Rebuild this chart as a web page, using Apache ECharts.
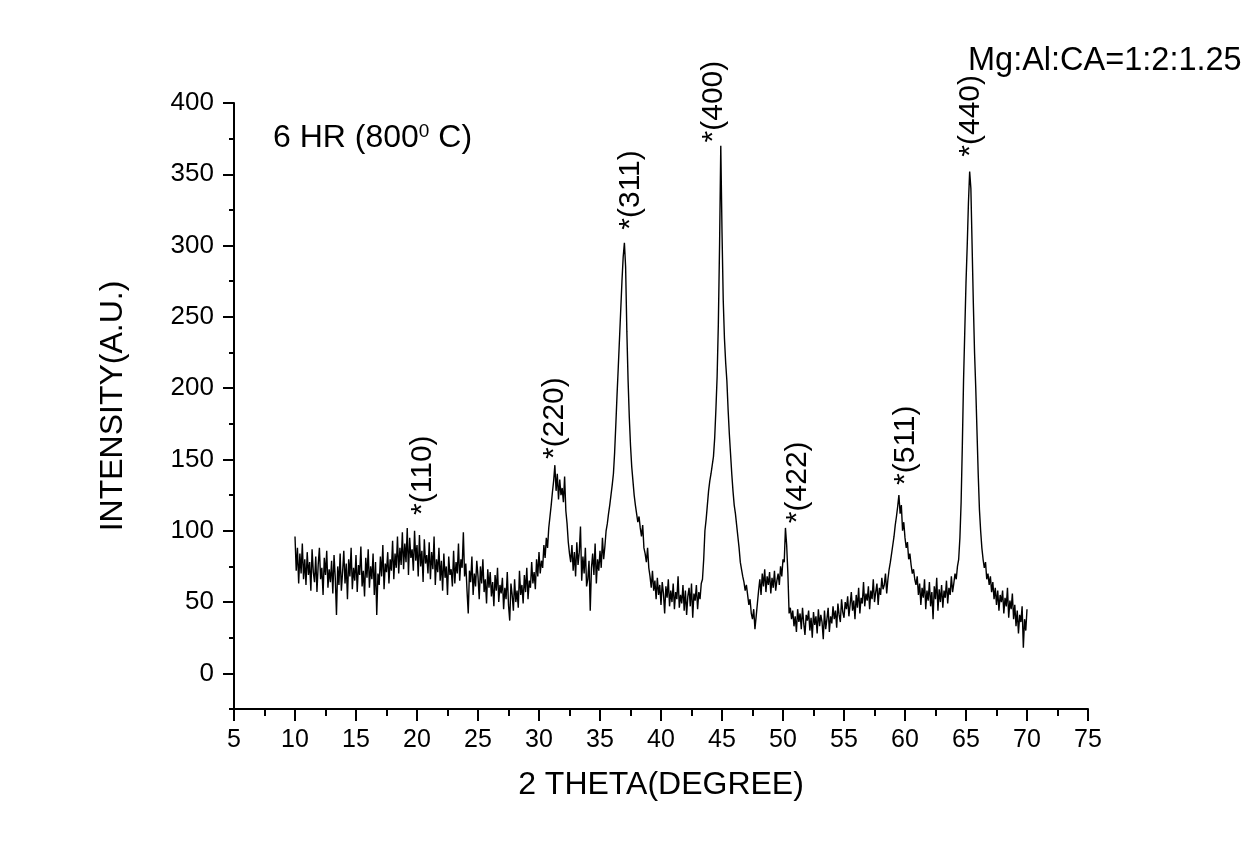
<!DOCTYPE html>
<html>
<head>
<meta charset="utf-8">
<script src="https://cdn.jsdelivr.net/npm/echarts@6/dist/echarts.min.js"></script>
<style>
  html, body { margin: 0; padding: 0; background: #ffffff; }
  #chart { width: 1247px; height: 847px; }
</style>
</head>
<body>
<div id="chart"></div>
<script>
// ---- Data ----
const thetaStart = 10;     // 2θ of first sample (degrees)
const thetaStep = 0.1;     // sampling step (degrees)
const intensity = [
  96, 72, 88, 63, 84, 70, 91, 66, 80, 62,
  85, 69, 78, 58, 87, 71, 64, 82, 57, 76,
  88, 66, 74, 55, 81, 69, 86, 60, 73, 64,
  79, 56, 83, 67, 41, 75, 62, 84, 58, 71,
  86, 63, 77, 52, 80, 68, 88, 59, 74, 65,
  83, 57, 76, 69, 89, 61, 72, 54, 81, 67,
  87, 60, 75, 66, 84, 55, 78, 41, 70, 62,
  82, 68, 90, 59, 77, 71, 85, 63, 80, 72,
  93, 66, 84, 74, 96, 70, 88, 76, 99, 73,
  91, 78, 102, 69, 95, 81, 87, 72, 100, 79,
  90, 68, 97, 75, 86, 64, 94, 77, 83, 70,
  92, 66, 85, 73, 96, 62, 80, 71, 88, 65,
  79, 58, 84, 67, 75, 55, 82, 69, 73, 61,
  86, 63, 78, 70, 91, 65, 80, 74, 99, 68,
  77, 58, 42, 72, 64, 82, 55, 70, 61, 79,
  68, 52, 75, 63, 80, 57, 66, 49, 73, 60,
  71, 54, 64, 47, 69, 58, 74, 50, 62, 56,
  67, 45, 60, 52, 71, 48, 37, 63, 55, 44,
  66, 50, 58, 46, 72, 55, 62, 49, 69, 57,
  74, 52, 65, 60, 78, 63, 71, 59, 80, 68,
  85, 70, 79, 74, 90, 81, 95, 88, 102, 110,
  118, 127, 135, 146, 128, 140, 122, 136, 125, 130,
  120, 138, 114, 105, 92, 84, 78, 90, 72, 85,
  68, 92, 76, 85, 103, 65, 82, 70, 88, 61,
  66, 79, 44, 74, 84, 69, 91, 63, 80, 72,
  86, 74, 95, 80, 89, 100, 105, 112, 118, 125,
  132, 140, 155, 175, 196, 215, 235, 255, 275, 292,
  302, 285, 240, 206, 180, 160, 145, 135, 125, 118,
  112, 106, 110, 102, 96, 104, 88, 84, 78, 88,
  74, 68, 60, 72, 58, 65, 52, 67, 55, 62,
  48, 64, 56, 42, 61, 53, 66, 47, 58, 50,
  63, 45, 57, 52, 68, 46, 55, 49, 62, 44,
  58, 41, 54, 60, 47, 63, 39, 56, 51, 62,
  45, 57, 52, 63, 66, 80, 100, 108, 118, 128,
  135, 140, 146, 152, 165, 185, 208, 245, 300, 370,
  310, 262, 235, 218, 205, 185, 168, 154, 140, 128,
  118, 112, 104, 96, 88, 78, 73, 68, 64, 58,
  62, 55, 48, 52, 42, 38, 45, 31, 40, 49,
  58, 66, 55, 70, 61, 73, 57, 68, 62, 71,
  56, 67, 60, 72, 58, 65, 70, 62, 75, 68,
  80, 78, 102, 90, 70, 42, 46, 38, 44, 33,
  40, 29, 45, 36, 42, 31, 46, 35, 27, 41,
  37, 44, 30, 39, 25, 43, 34, 40, 28, 45,
  33, 41, 36, 24, 44, 31, 38, 46, 29, 40,
  35, 47, 38, 44, 32, 49, 41, 36, 52, 43,
  39, 50, 45, 54, 40, 48, 57, 44, 51, 38,
  55, 46, 60, 42, 53, 49, 64, 47, 56, 51,
  61, 45, 58, 52, 66, 50, 57, 63, 48, 60,
  55, 67, 59, 62, 70, 56, 66, 73, 78, 84,
  90, 96, 104, 110, 117, 125, 112, 118, 100, 106,
  95, 88, 92, 80, 84, 76, 70, 73, 66, 62,
  68, 55, 63, 48, 60, 53, 66, 45, 58, 51,
  64, 47, 57, 38, 61, 52, 67, 44, 59, 50,
  62, 46, 58, 53, 65, 49, 60, 55, 68, 57,
  63, 70, 66, 75, 80, 95, 120, 160, 206, 240,
  274, 300, 330, 352, 340, 300, 260, 225, 200, 170,
  140, 115, 100, 88, 80, 74, 78, 66, 70, 62,
  68, 57, 64, 52, 60, 48, 58, 44, 55, 50,
  58, 42, 53, 47, 60, 39, 51, 45, 56, 38,
  48, 33, 44, 28, 41, 36, 47, 18, 38, 30,
  45
];

// Peak annotations (Miller indices) and where their labels sit, in data units
const peakNames  = ['*(110)', '*(220)', '*(311)', '*(400)', '*(422)', '*(511)', '*(440)'];
const peakLabelX = [20.5, 31.3, 37.5, 44.3, 51.2, 60.1, 65.4];
const peakLabelY = [139, 179, 339, 401, 134, 160, 391];

// Axis ticks
const xMin = 5, xMax = 75, xInterval = 5;
const yMin = -25, yMax = 400, yMinorInterval = 25;
const yMajorTicks = [0, 50, 100, 150, 200, 250, 300, 350, 400];

const xTitle = '2 THETA(DEGREE)';
const yTitle = 'INTENSITY(A.U.)';
const noteSample = '6 HR (800{sup|0} C)';
const noteRatio = 'Mg:Al:CA=1:2:1.25';

// ---- Build ----
const FONT = '"Liberation Sans", Arial, sans-serif';
const INK = '#000000';

const lineData = intensity.map((v, i) => [+(thetaStart + i * thetaStep).toFixed(2), v]);
const peakData = peakNames.map((n, i) => ({ name: n, value: [peakLabelX[i], peakLabelY[i]] }));

const chart = echarts.init(document.getElementById('chart'), null, { renderer: 'canvas' });

chart.setOption({
  backgroundColor: '#ffffff',
  animation: false,
  title: [
    {
      text: noteSample, left: 273, top: 122, padding: 0,
      textStyle: {
        fontFamily: FONT, fontSize: 32, fontWeight: 'normal', color: INK,
        rich: { sup: { fontFamily: FONT, fontSize: 19, color: INK, verticalAlign: 'top' } }
      }
    },
    {
      text: noteRatio, left: 968, top: 45, padding: 0,
      textStyle: { fontFamily: FONT, fontSize: 32.5, fontWeight: 'normal', color: INK }
    }
  ],
  grid: { left: 234, right: 159, top: 103, bottom: 138, containLabel: false },
  xAxis: {
    type: 'value', min: xMin, max: xMax, interval: xInterval,
    name: xTitle, nameLocation: 'middle', nameGap: 60,
    nameTextStyle: { fontFamily: FONT, fontSize: 32, color: INK },
    axisLine: { show: true, onZero: false, lineStyle: { color: INK, width: 2 } },
    axisTick: { show: true, inside: false, length: 12, lineStyle: { color: INK, width: 2 } },
    minorTick: { show: true, splitNumber: 2, length: 7, lineStyle: { color: INK, width: 2 } },
    axisLabel: { fontFamily: FONT, fontSize: 25, color: INK, margin: 19 },
    splitLine: { show: false }
  },
  yAxis: [
    {
      type: 'value', min: yMin, max: yMax, interval: yMinorInterval,
      name: yTitle, nameLocation: 'middle', nameGap: 105, nameRotate: 90,
      nameTextStyle: { fontFamily: FONT, fontSize: 32, color: INK },
      axisLine: { show: true, onZero: false, lineStyle: { color: INK, width: 2 } },
      axisTick: { show: true, inside: false, length: 5, lineStyle: { color: INK, width: 2 } },
      axisLabel: {
        fontFamily: FONT, fontSize: 26, color: INK, margin: 20,
        formatter: function (v) { return (v % 50 === 0) ? String(v) : ''; }
      },
      splitLine: { show: false }
    },
    {
      type: 'value', min: yMin, max: yMax, interval: yMinorInterval, position: 'left',
      axisLine: { show: false },
      axisTick: { show: true, inside: false, length: 11, customValues: yMajorTicks,
                  lineStyle: { color: INK, width: 2 } },
      axisLabel: { show: false },
      splitLine: { show: false }
    }
  ],
  series: [
    {
      type: 'line', data: lineData, xAxisIndex: 0, yAxisIndex: 0,
      showSymbol: false, symbol: 'none', sampling: null,
      lineStyle: { color: INK, width: 1.4 },
      z: 2
    },
    {
      type: 'scatter', data: peakData, xAxisIndex: 0, yAxisIndex: 0,
      symbolSize: 0, clip: false, silent: true,
      itemStyle: { opacity: 1, color: INK },
      label: {
        show: true, position: 'inside', rotate: 90, opacity: 1,
        formatter: function (p) { return p.name; },
        fontFamily: FONT, fontSize: 30, color: INK,
        align: 'center', verticalAlign: 'middle'
      },
      z: 3
    }
  ]
});
</script>
</body>
</html>
